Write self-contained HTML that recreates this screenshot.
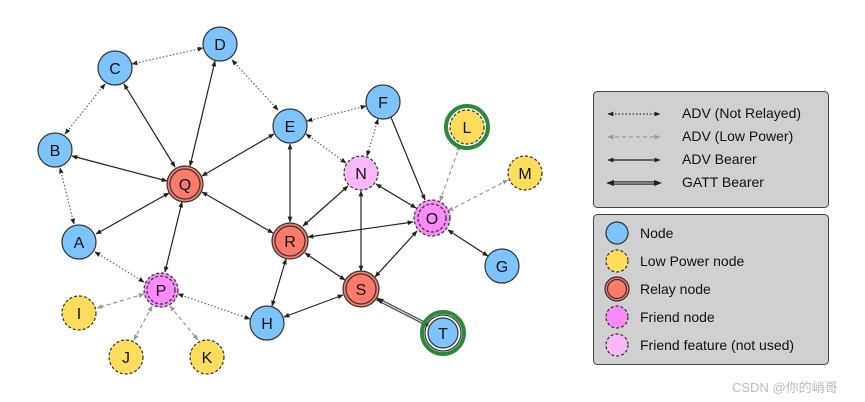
<!DOCTYPE html>
<html><head><meta charset="utf-8"><style>body{margin:0;background:#fff}svg{display:block}</style></head><body>
<svg width="865" height="402" viewBox="0 0 865 402" font-family="Liberation Sans, Arial, sans-serif">
<defs>
<marker id="a" viewBox="0 0 10 10" refX="9" refY="5" markerWidth="5" markerHeight="5" orient="auto-start-reverse"><path d="M0,1L10,5L0,9z" fill="#222"/></marker>
<marker id="g" viewBox="0 0 10 10" refX="9" refY="5" markerWidth="5" markerHeight="5" orient="auto-start-reverse"><path d="M0,1L10,5L0,9z" fill="#999"/></marker>
</defs>
<g stroke-width="1.2" fill="none">
<!-- dotted -->
<g stroke="#666" stroke-dasharray="1.5,2" marker-start="url(#a)" marker-end="url(#a)">
<line x1="132" y1="64" x2="203" y2="48"/>
<line x1="105" y1="84" x2="65" y2="134"/>
<line x1="60" y1="168" x2="74" y2="224"/>
<line x1="232" y1="60" x2="278" y2="110"/>
<line x1="307" y1="121" x2="366" y2="106"/>
<line x1="306" y1="134" x2="346" y2="163"/>
<line x1="378" y1="119" x2="367" y2="156"/>
<line x1="95" y1="252" x2="144" y2="282"/>
<line x1="178" y1="294" x2="250" y2="319"/>
</g>
<!-- low power dashed -->
<g stroke="#999" stroke-dasharray="4,3" marker-start="url(#g)" marker-end="url(#g)">
<line x1="460" y1="145" x2="440" y2="201"/>
<line x1="508" y1="180" x2="448" y2="211"/>
<line x1="144" y1="294" x2="97" y2="308"/>
<line x1="152" y1="306" x2="134" y2="340"/>
<line x1="170" y1="306" x2="198" y2="340"/>
</g>
<!-- solid -->
<g stroke="#222" marker-start="url(#a)" marker-end="url(#a)">
<line x1="124" y1="84" x2="175" y2="167"/>
<line x1="215" y1="61" x2="190" y2="166"/>
<line x1="72" y1="156" x2="167" y2="181"/>
<line x1="274" y1="134" x2="202" y2="176"/>
<line x1="169" y1="193" x2="96" y2="234"/>
<line x1="202" y1="192" x2="273" y2="233"/>
<line x1="182" y1="202" x2="165" y2="272"/>
<line x1="290" y1="144" x2="290" y2="222"/>
<line x1="348" y1="186" x2="303" y2="226"/>
<line x1="308" y1="237" x2="413" y2="222"/>
<line x1="388" y1="110" x2="425" y2="200"/>
<line x1="376" y1="184" x2="416" y2="208"/>
<line x1="361" y1="191" x2="361" y2="271"/>
<line x1="417" y1="231" x2="375" y2="277"/>
<line x1="448" y1="230" x2="488" y2="256"/>
<line x1="305" y1="253" x2="345" y2="280"/>
<line x1="286" y1="259" x2="272" y2="306"/>
<line x1="343" y1="295" x2="284" y2="317"/>
</g>
<g stroke="#444" stroke-width="3.5"><line x1="377" y1="299" x2="428" y2="325"/></g>
<g stroke="#ddd" stroke-width="1.2"><line x1="377" y1="299" x2="428" y2="325"/></g>
<path d="M376,298 l8,1 l-3,5z" fill="#222"/><path d="M429,326 l-8,-1 l3,-5z" fill="#222"/>
</g>
<!-- nodes -->
<g stroke="#333" stroke-width="1.2" font-size="16" text-anchor="middle">
<g fill="#7cc4fb">
<circle cx="115" cy="68" r="17"/><circle cx="220" cy="44" r="17"/><circle cx="55" cy="150" r="17"/>
<circle cx="290" cy="126" r="17"/><circle cx="383" cy="102" r="17"/><circle cx="79" cy="242" r="17"/>
<circle cx="502" cy="266" r="17"/><circle cx="267" cy="323" r="17"/>
</g>
<g fill="#fedd5c" stroke-dasharray="3,2"><circle cx="525" cy="173" r="17"/><circle cx="79" cy="313" r="17"/><circle cx="126" cy="357" r="17"/><circle cx="207" cy="357" r="17"/></g>
<circle cx="467" cy="127" r="21" fill="none" stroke="#2a8a3a" stroke-width="4"/>
<circle cx="467" cy="127" r="17" fill="#fedd5c" stroke-dasharray="3,2"/>
<circle cx="443" cy="333" r="21" fill="none" stroke="#2a8a3a" stroke-width="4"/>
<circle cx="443" cy="333" r="18" fill="none"/>
<circle cx="443" cy="333" r="15" fill="#7cc4fb"/>
<g fill="#fa7b6c"><circle cx="185" cy="184" r="18"/><circle cx="290" cy="241" r="18"/><circle cx="361" cy="289" r="18"/></g>
<g fill="none"><circle cx="185" cy="184" r="15"/><circle cx="290" cy="241" r="15"/><circle cx="361" cy="289" r="15"/></g>
<circle cx="361" cy="173" r="17" fill="#fbb8f8" stroke-dasharray="3,2"/>
<circle cx="432" cy="218" r="18" fill="#f98cf9" stroke-dasharray="3,2"/>
<circle cx="432" cy="218" r="14" fill="none" stroke-dasharray="3,2"/>
<circle cx="161" cy="290" r="17" fill="#f98cf9" stroke-dasharray="3,2"/>
<circle cx="161" cy="290" r="14" fill="none" stroke-dasharray="3,2"/>
</g>
<g font-size="16" text-anchor="middle" fill="#111">
<text x="115" y="74">C</text><text x="220" y="50">D</text><text x="55" y="156">B</text><text x="185" y="190">Q</text>
<text x="290" y="132">E</text><text x="383" y="108">F</text><text x="467" y="133">L</text><text x="361" y="179">N</text>
<text x="525" y="179">M</text><text x="79" y="248">A</text><text x="290" y="247">R</text><text x="432" y="224">O</text>
<text x="502" y="272">G</text><text x="161" y="296">P</text><text x="361" y="295">S</text><text x="79" y="319">I</text>
<text x="267" y="329">H</text><text x="443" y="339">T</text><text x="126" y="363">J</text><text x="207" y="363">K</text>
</g>
<!-- legend -->
<rect x="593.5" y="91.5" width="235" height="116" rx="4" fill="#d0d0d0" stroke="#444"/>
<rect x="593.5" y="214.5" width="235" height="150" rx="4" fill="#d0d0d0" stroke="#444"/>
<g stroke-width="1.2">
<line x1="608" y1="114" x2="660" y2="114" stroke="#333" stroke-dasharray="1.5,2" marker-start="url(#a)" marker-end="url(#a)"/>
<line x1="608" y1="137" x2="660" y2="137" stroke="#999" stroke-dasharray="4,3" marker-start="url(#g)" marker-end="url(#g)"/>
<line x1="608" y1="160" x2="660" y2="160" stroke="#222" marker-start="url(#a)" marker-end="url(#a)"/>
<line x1="610" y1="183" x2="658" y2="183" stroke="#333" stroke-width="3.5"/>
<line x1="610" y1="183" x2="658" y2="183" stroke="#ccc" stroke-width="1"/>
<path d="M606,183 l8,-3 v6z M662,183 l-8,-3 v6z" fill="#222"/>
</g>
<g font-size="14" fill="#111">
<text x="682" y="118">ADV (Not Relayed)</text><text x="682" y="141">ADV (Low Power)</text>
<text x="682" y="164">ADV Bearer</text><text x="682" y="187">GATT Bearer</text>
<text x="640" y="238">Node</text><text x="640" y="266">Low Power node</text><text x="640" y="294">Relay node</text>
<text x="640" y="322">Friend node</text><text x="640" y="350">Friend feature (not used)</text>
</g>
<g stroke="#333" stroke-width="1.2">
<circle cx="617" cy="233" r="11" fill="#7cc4fb"/>
<circle cx="617" cy="261" r="11" fill="#fedd5c" stroke-dasharray="3,2"/>
<circle cx="617" cy="289" r="12" fill="#fa7b6c"/><circle cx="617" cy="289" r="9.5" fill="none"/>
<circle cx="617" cy="317" r="11" fill="#f98cf9" stroke-dasharray="3,2"/>
<circle cx="617" cy="345" r="11" fill="#fbb8f8" stroke-dasharray="3,2"/>
</g>
<text x="732" y="392" font-size="13" fill="#bbb" font-family="Liberation Sans, Noto Sans CJK SC, sans-serif">CSDN @你的峭哥</text>
</svg>
</body></html>
